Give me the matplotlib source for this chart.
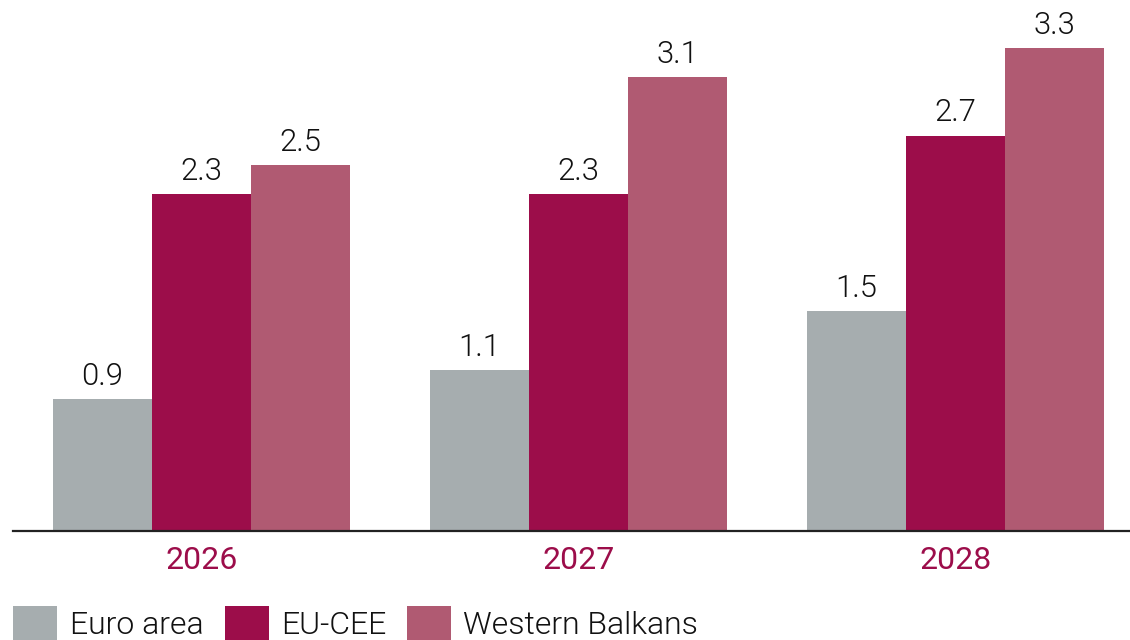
import matplotlib
matplotlib.use("Agg")
import matplotlib.pyplot as plt
from matplotlib.patches import Rectangle
import numpy as np

years = ["2026", "2027", "2028"]
series_names = ["Euro area", "EU-CEE", "Western Balkans"]
euro_area = [0.9, 1.1, 1.5]
eu_cee = [2.3, 2.3, 2.7]
western_balkans = [2.5, 3.1, 3.3]

colors = ["#A6ADAF", "#9C0D4A", "#B05A72"]
year_color = "#9C0D4A"

W, H = 1130, 640
fig = plt.figure(figsize=(W / 100, H / 100), dpi=100)
ax = fig.add_axes([13 / W, (H - 531) / H, 1 - 13 / W, 531 / H])

x = np.arange(len(years))
bw = 99 / 377
series = [euro_area, eu_cee, western_balkans]
for i, (vals, c) in enumerate(zip(series, colors)):
    bars = ax.bar(x + (i - 1) * bw, vals, width=bw, color=c, linewidth=0, zorder=2)
    ax.bar_label(bars, labels=[f"{v:.1f}" for v in vals], padding=6,
                 fontsize=22.3, family="Roboto", fontweight=300, color="#111111")

ax.set_xlim(-0.5, (W - 201.5) / 377)
ax.set_ylim(0, 531 / 146.4)
ax.set_yticks([])
ax.set_xticks(x)
ax.set_xticklabels(years, fontsize=23, family="Roboto", fontweight=400, color=year_color)
ax.tick_params(axis="x", length=0, pad=10.5)
for s in ["top", "right", "left"]:
    ax.spines[s].set_visible(False)
ax.spines["bottom"].set_linewidth(1.6)
ax.spines["bottom"].set_color("#222222")
ax.patch.set_alpha(0)

# Legend (manual, partly cut at bottom as in reference)
legend_x = [(13, 70), (225, 281), (407, 463)]
for (px, tx), name, c in zip(legend_x, series_names, colors):
    fig.add_artist(Rectangle((px / W, (H - 650) / H), 44 / W, 44 / H,
                             transform=fig.transFigure, color=c, linewidth=0,
                             clip_on=False))
    fig.text(tx / W, (H - 634) / H, name, fontsize=23, family="Roboto",
             fontweight=300, color="#111111", va="baseline", ha="left")

fig.savefig("out.png", dpi=100)
